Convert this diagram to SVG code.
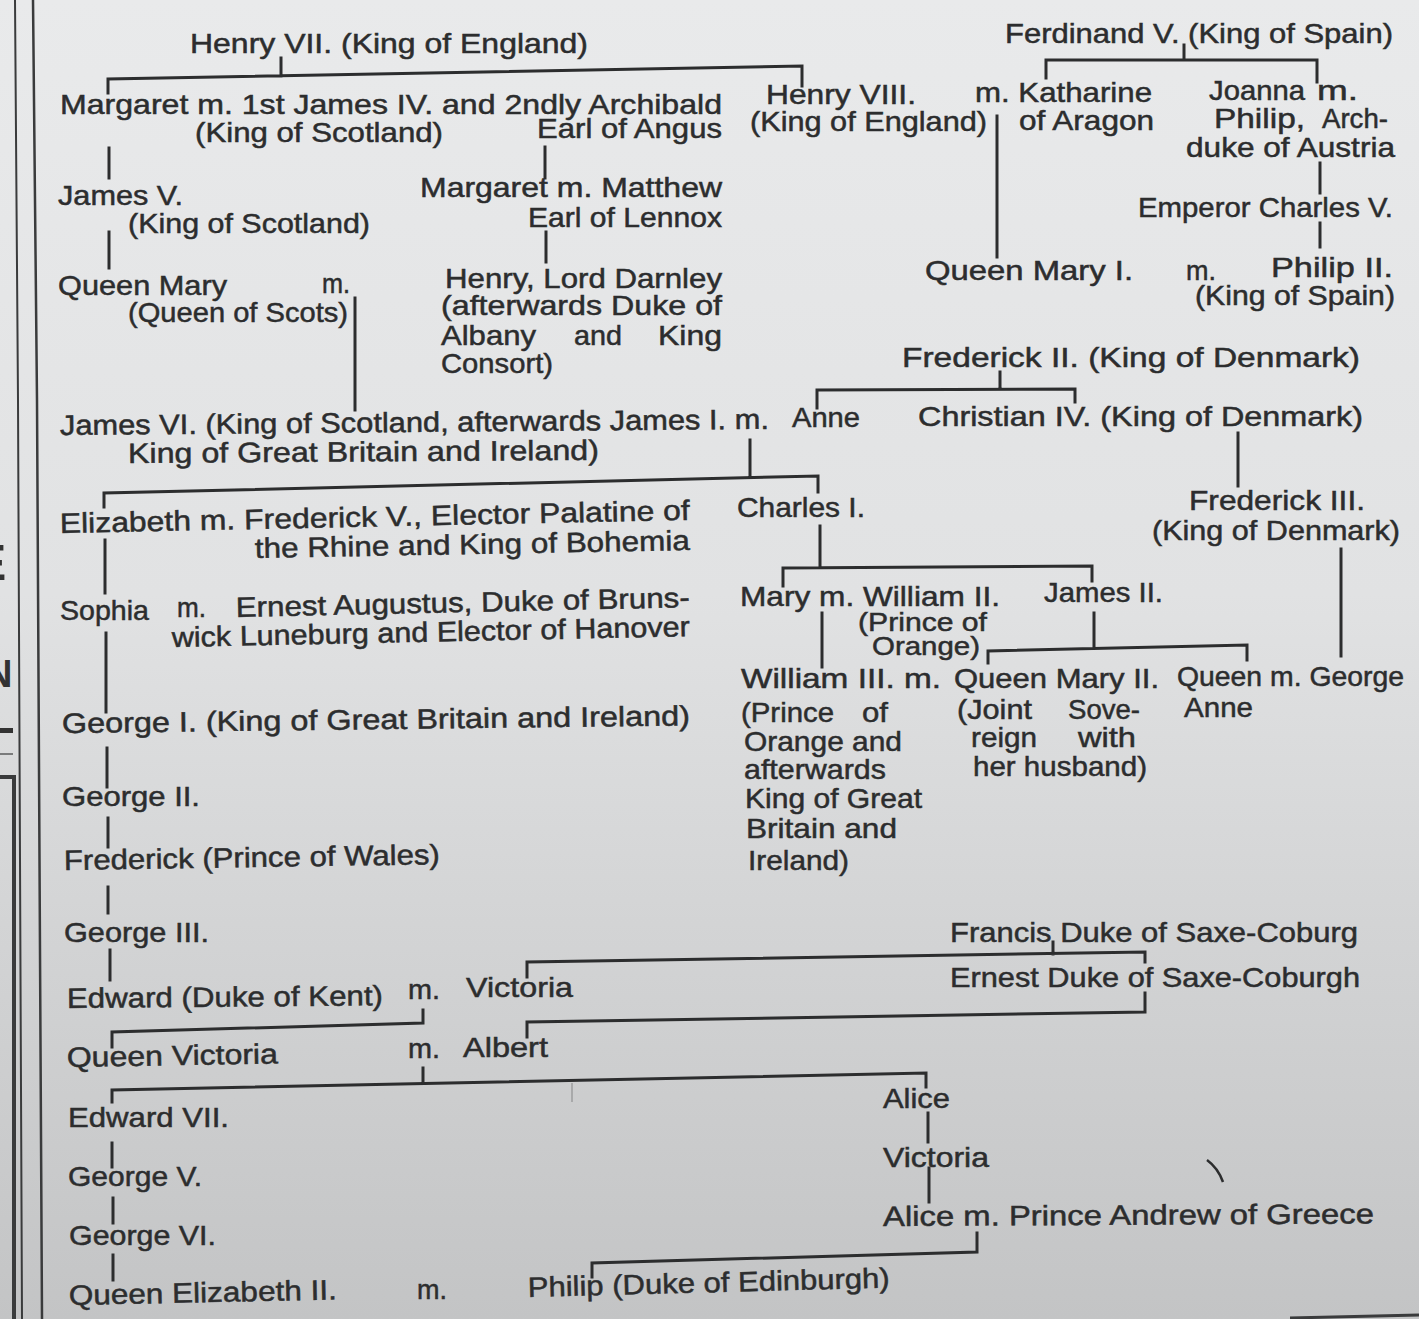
<svg xmlns="http://www.w3.org/2000/svg" width="1419" height="1319" viewBox="0 0 1419 1319">
<defs>
<linearGradient id="paper" x1="0" y1="0" x2="0" y2="1">
<stop offset="0" stop-color="#e9eaeb"/>
<stop offset="0.45" stop-color="#e1e2e3"/>
<stop offset="0.7" stop-color="#d3d4d5"/>
<stop offset="1" stop-color="#c3c4c5"/>
</linearGradient>
</defs>
<style>
.t{font-family:"Liberation Sans",Arial,sans-serif;font-size:28px;fill:#2c2d2e;stroke:#2c2d2e;stroke-width:0.5px;}
.s{font-size:26px;}
.c{fill:none;stroke:#2c2d2e;stroke-width:3;stroke-linejoin:miter;stroke-linecap:square;}
.rule{fill:none;stroke:#3a3b3c;}
.frag{font-family:"Liberation Sans",Arial,sans-serif;font-weight:bold;fill:#333;}
</style>
<rect x="0" y="0" width="1419" height="1319" fill="url(#paper)"/>

<g id="margin">
<path class="rule" d="M15,0 L18,400 L22,1319" stroke-width="2"/>
<path class="rule" d="M33,0 L37,400 L42,1319" stroke-width="2.5"/>
<path class="rule" d="M0,777 H14 V1319" stroke-width="4"/>
<text class="frag" x="-27" y="580" font-size="50">E</text>
<text class="frag" x="-15" y="687" font-size="38">N</text>
<rect x="0" y="728" width="13" height="5" fill="#333"/>
<path class="rule" d="M0,754 H13" stroke-width="1.2"/>
<path class="rule" d="M1290,1318 L1419,1315" stroke-width="3"/>
</g>

<g id="connectors">
<path class="c" d="M281,58 V76 M108,93 V79 L802,66 V86"/>
<path class="c" d="M109,148 V178"/>
<path class="c" d="M109,232 V268"/>
<path class="c" d="M545,147 V178"/>
<path class="c" d="M546,232 V262"/>
<path class="c" d="M355,298 V410"/>
<path class="c" d="M1184,45 V60 M1046,78 V60 H1317 V82"/>
<path class="c" d="M997,116 V257"/>
<path class="c" d="M1320,163 V193"/>
<path class="c" d="M1320,223 V247"/>
<path class="c" d="M1000,372 V389 M817,408 V390 L1075,389 V402"/>
<path class="c" d="M1238,433 V486"/>
<path class="c" d="M750,440 V477 M104,507 V493 L818,476 V492"/>
<path class="c" d="M105,540 V593"/>
<path class="c" d="M106,633 V712"/>
<path class="c" d="M107,748 V787"/>
<path class="c" d="M108,818 V847"/>
<path class="c" d="M108,887 V913"/>
<path class="c" d="M110,950 V980"/>
<path class="c" d="M820,526 V567 M783,586 V568 L1092,566 V581"/>
<path class="c" d="M822,613 V667"/>
<path class="c" d="M1094,613 V648 M988,663 V651 L1247,645 V660"/>
<path class="c" d="M1341,549 V656"/>
<path class="c" d="M1053,942 V954 M527,977 V962 L1145,952 V962"/>
<path class="c" d="M1145,993 V1012 L527,1022 V1037"/>
<path class="c" d="M423,1010 V1023 L112,1032 V1047"/>
<path class="c" d="M423,1068 V1083 M112,1102 V1090 L926,1073 V1087"/>
<path d="M572,1083 V1102" stroke="#9c9d9e" stroke-width="1.5" fill="none"/>
<path class="c" d="M112,1143 V1167"/>
<path class="c" d="M113,1198 V1223"/>
<path class="c" d="M113,1255 V1280"/>
<path class="c" d="M928,1113 V1142"/>
<path class="c" d="M929,1168 V1202"/>
<path class="c" d="M977,1233 V1252 L592,1263 V1277"/>
<path d="M1207,1160 Q1218,1168 1223,1182" stroke="#2c2d2e" stroke-width="2.5" fill="none"/>
</g>

<g id="henry-vii"><text class="t" x="190" y="53" textLength="398" lengthAdjust="spacingAndGlyphs">Henry VII. (King of England)</text></g>
<g id="ferdinand-v"><text class="t" x="1005" y="43" textLength="388" lengthAdjust="spacingAndGlyphs">Ferdinand V. (King of Spain)</text></g>

<g id="margaret-tudor">
<text class="t" x="60" y="114" textLength="662" lengthAdjust="spacingAndGlyphs">Margaret m. 1st James IV. and 2ndly Archibald</text>
<text class="t" x="195" y="142" textLength="248" lengthAdjust="spacingAndGlyphs">(King of Scotland)</text>
<text class="t" x="537" y="138" textLength="185" lengthAdjust="spacingAndGlyphs">Earl of Angus</text>
</g>
<g id="henry-viii">
<text class="t" x="766" y="104" textLength="150" lengthAdjust="spacingAndGlyphs">Henry VIII.</text>
<text class="t" x="750" y="131" textLength="237" lengthAdjust="spacingAndGlyphs">(King of England)</text>
</g>
<g id="katharine">
<text class="t" x="975" y="102" textLength="177" lengthAdjust="spacingAndGlyphs">m. Katharine</text>
<text class="t" x="1019" y="130" textLength="135" lengthAdjust="spacingAndGlyphs">of Aragon</text>
</g>
<g id="joanna">
<text class="t" x="1209" y="100" textLength="96" lengthAdjust="spacingAndGlyphs">Joanna</text>
<text class="t" x="1317" y="100" textLength="41" lengthAdjust="spacingAndGlyphs">m.</text>
<text class="t" x="1214" y="128" textLength="91" lengthAdjust="spacingAndGlyphs">Philip,</text>
<text class="t" x="1322" y="128" textLength="66" lengthAdjust="spacingAndGlyphs">Arch-</text>
<text class="t" x="1186" y="157" textLength="209" lengthAdjust="spacingAndGlyphs">duke of Austria</text>
</g>

<g id="james-v">
<text class="t" x="58" y="205" textLength="125" lengthAdjust="spacingAndGlyphs">James V.</text>
<text class="t" x="128" y="233" textLength="242" lengthAdjust="spacingAndGlyphs">(King of Scotland)</text>
</g>
<g id="margaret-douglas">
<text class="t" x="420" y="197" textLength="302" lengthAdjust="spacingAndGlyphs">Margaret m. Matthew</text>
<text class="t" x="528" y="227" textLength="194" lengthAdjust="spacingAndGlyphs">Earl of Lennox</text>
</g>
<g id="charles-v"><text class="t" x="1138" y="217" textLength="255" lengthAdjust="spacingAndGlyphs">Emperor Charles V.</text></g>

<g id="mary-queen-of-scots">
<text class="t" x="58" y="295" textLength="169" lengthAdjust="spacingAndGlyphs">Queen Mary</text>
<text class="t" x="322" y="293" textLength="28" lengthAdjust="spacingAndGlyphs">m.</text>
<text class="t" x="128" y="322" textLength="220" lengthAdjust="spacingAndGlyphs">(Queen of Scots)</text>
</g>
<g id="darnley">
<text class="t" x="445" y="288" textLength="277" lengthAdjust="spacingAndGlyphs">Henry, Lord Darnley</text>
<text class="t" x="441" y="315" textLength="281" lengthAdjust="spacingAndGlyphs">(afterwards Duke of</text>
<text class="t" x="441" y="345" textLength="95" lengthAdjust="spacingAndGlyphs">Albany</text>
<text class="t" x="574" y="345" textLength="48" lengthAdjust="spacingAndGlyphs">and</text>
<text class="t" x="658" y="345" textLength="64" lengthAdjust="spacingAndGlyphs">King</text>
<text class="t" x="441" y="373" textLength="112" lengthAdjust="spacingAndGlyphs">Consort)</text>
</g>
<g id="mary-i">
<text class="t" x="925" y="280" textLength="208" lengthAdjust="spacingAndGlyphs">Queen Mary I.</text>
<text class="t" x="1186" y="280" textLength="30" lengthAdjust="spacingAndGlyphs">m.</text>
</g>
<g id="philip-ii">
<text class="t" x="1271" y="277" textLength="122" lengthAdjust="spacingAndGlyphs">Philip II.</text>
<text class="t" x="1195" y="305" textLength="200" lengthAdjust="spacingAndGlyphs">(King of Spain)</text>
</g>

<g id="frederick-ii"><text class="t" x="902" y="367" textLength="458" lengthAdjust="spacingAndGlyphs">Frederick II. (King of Denmark)</text></g>
<g id="james-vi">
<text class="t" x="60" y="435" textLength="709" lengthAdjust="spacingAndGlyphs" transform="rotate(-0.5 60 435)">James VI. (King of Scotland, afterwards James I. m.</text>
<text class="t" x="128" y="463" textLength="471" lengthAdjust="spacingAndGlyphs" transform="rotate(-0.4 128 463)">King of Great Britain and Ireland)</text>
</g>
<g id="anne-of-denmark"><text class="t" x="792" y="427" textLength="68" lengthAdjust="spacingAndGlyphs">Anne</text></g>
<g id="christian-iv"><text class="t" x="918" y="426" textLength="445" lengthAdjust="spacingAndGlyphs">Christian IV. (King of Denmark)</text></g>

<g id="elizabeth-stuart">
<text class="t" x="60" y="533" textLength="630" lengthAdjust="spacingAndGlyphs" transform="rotate(-1.2 60 533)">Elizabeth m. Frederick V., Elector Palatine of</text>
<text class="t" x="255" y="558" textLength="435" lengthAdjust="spacingAndGlyphs" transform="rotate(-1.05 255 558)">the Rhine and King of Bohemia</text>
</g>
<g id="charles-i"><text class="t" x="737" y="517" textLength="128" lengthAdjust="spacingAndGlyphs">Charles I.</text></g>
<g id="frederick-iii">
<text class="t" x="1189" y="510" textLength="176" lengthAdjust="spacingAndGlyphs">Frederick III.</text>
<text class="t" x="1152" y="540" textLength="248" lengthAdjust="spacingAndGlyphs">(King of Denmark)</text>
</g>

<g id="sophia">
<text class="t" x="60" y="620" textLength="89" lengthAdjust="spacingAndGlyphs">Sophia</text>
<text class="t" x="177" y="617" textLength="29" lengthAdjust="spacingAndGlyphs">m.</text>
<text class="t" x="236" y="617" textLength="454" lengthAdjust="spacingAndGlyphs" transform="rotate(-1.25 236 617)">Ernest Augustus, Duke of Bruns-</text>
<text class="t" x="172" y="647" textLength="518" lengthAdjust="spacingAndGlyphs" transform="rotate(-1.2 172 647)">wick Luneburg and Elector of Hanover</text>
</g>
<g id="mary-princess-royal">
<text class="t" x="740" y="606" textLength="260" lengthAdjust="spacingAndGlyphs">Mary m. William II.</text>
<text class="t s" x="858" y="631" textLength="129" lengthAdjust="spacingAndGlyphs">(Prince of</text>
<text class="t s" x="872" y="655" textLength="108" lengthAdjust="spacingAndGlyphs">Orange)</text>
</g>
<g id="james-ii"><text class="t" x="1044" y="602" textLength="119" lengthAdjust="spacingAndGlyphs">James II.</text></g>

<g id="william-iii">
<text class="t" x="741" y="688" textLength="200" lengthAdjust="spacingAndGlyphs">William III. m.</text>
<text class="t" x="741" y="722" textLength="93" lengthAdjust="spacingAndGlyphs">(Prince</text>
<text class="t" x="862" y="722" textLength="26" lengthAdjust="spacingAndGlyphs">of</text>
<text class="t" x="744" y="751" textLength="158" lengthAdjust="spacingAndGlyphs">Orange and</text>
<text class="t" x="744" y="779" textLength="142" lengthAdjust="spacingAndGlyphs">afterwards</text>
<text class="t" x="745" y="808" textLength="177" lengthAdjust="spacingAndGlyphs">King of Great</text>
<text class="t" x="746" y="838" textLength="151" lengthAdjust="spacingAndGlyphs">Britain and</text>
<text class="t" x="748" y="870" textLength="101" lengthAdjust="spacingAndGlyphs">Ireland)</text>
</g>
<g id="mary-ii">
<text class="t" x="954" y="688" textLength="205" lengthAdjust="spacingAndGlyphs">Queen Mary II.</text>
<text class="t" x="957" y="719" textLength="75" lengthAdjust="spacingAndGlyphs">(Joint</text>
<text class="t" x="1068" y="719" textLength="72" lengthAdjust="spacingAndGlyphs">Sove-</text>
<text class="t" x="971" y="747" textLength="66" lengthAdjust="spacingAndGlyphs">reign</text>
<text class="t" x="1078" y="747" textLength="58" lengthAdjust="spacingAndGlyphs">with</text>
<text class="t" x="973" y="776" textLength="174" lengthAdjust="spacingAndGlyphs">her husband)</text>
</g>
<g id="queen-anne">
<text class="t" x="1177" y="686" textLength="227" lengthAdjust="spacingAndGlyphs">Queen m. George</text>
<text class="t" x="1184" y="717" textLength="69" lengthAdjust="spacingAndGlyphs">Anne</text>
</g>

<g id="george-i"><text class="t" x="62" y="733" textLength="628" lengthAdjust="spacingAndGlyphs" transform="rotate(-0.7 62 733)">George I. (King of Great Britain and Ireland)</text></g>
<g id="george-ii"><text class="t" x="62" y="806" textLength="138" lengthAdjust="spacingAndGlyphs">George II.</text></g>
<g id="frederick-prince-of-wales"><text class="t" x="64" y="870" textLength="376" lengthAdjust="spacingAndGlyphs" transform="rotate(-0.9 64 870)">Frederick (Prince of Wales)</text></g>
<g id="george-iii"><text class="t" x="64" y="942" textLength="145" lengthAdjust="spacingAndGlyphs">George III.</text></g>
<g id="francis-saxe-coburg"><text class="t" x="950" y="942" textLength="408" lengthAdjust="spacingAndGlyphs">Francis Duke of Saxe-Coburg</text></g>
<g id="ernest-saxe-coburg"><text class="t" x="950" y="987" textLength="410" lengthAdjust="spacingAndGlyphs">Ernest Duke of Saxe-Coburgh</text></g>

<g id="edward-duke-of-kent">
<text class="t" x="67" y="1008" textLength="316" lengthAdjust="spacingAndGlyphs" transform="rotate(-0.5 67 1008)">Edward (Duke of Kent)</text>
<text class="t" x="408" y="999" textLength="32" lengthAdjust="spacingAndGlyphs">m.</text>
</g>
<g id="victoria-saxe-coburg"><text class="t" x="466" y="997" textLength="107" lengthAdjust="spacingAndGlyphs">Victoria</text></g>
<g id="queen-victoria">
<text class="t" x="67" y="1067" textLength="211" lengthAdjust="spacingAndGlyphs" transform="rotate(-1 67 1067)">Queen Victoria</text>
<text class="t" x="408" y="1058" textLength="32" lengthAdjust="spacingAndGlyphs">m.</text>
</g>
<g id="albert"><text class="t" x="463" y="1057" textLength="85" lengthAdjust="spacingAndGlyphs">Albert</text></g>

<g id="edward-vii"><text class="t" x="68" y="1127" textLength="161" lengthAdjust="spacingAndGlyphs">Edward VII.</text></g>
<g id="alice"><text class="t" x="883" y="1108" textLength="67" lengthAdjust="spacingAndGlyphs">Alice</text></g>
<g id="george-v"><text class="t" x="68" y="1186" textLength="134" lengthAdjust="spacingAndGlyphs">George V.</text></g>
<g id="victoria-hesse"><text class="t" x="883" y="1167" textLength="106" lengthAdjust="spacingAndGlyphs">Victoria</text></g>
<g id="george-vi"><text class="t" x="69" y="1245" textLength="147" lengthAdjust="spacingAndGlyphs">George VI.</text></g>
<g id="alice-battenberg"><text class="t" x="883" y="1226" textLength="491" lengthAdjust="spacingAndGlyphs" transform="rotate(-0.3 883 1226)">Alice m. Prince Andrew of Greece</text></g>
<g id="elizabeth-ii">
<text class="t" x="69" y="1305" textLength="268" lengthAdjust="spacingAndGlyphs" transform="rotate(-1.2 69 1305)">Queen Elizabeth II.</text>
<text class="t" x="417" y="1299" textLength="30" lengthAdjust="spacingAndGlyphs">m.</text>
</g>
<g id="philip-edinburgh"><text class="t" x="528" y="1297" textLength="362" lengthAdjust="spacingAndGlyphs" transform="rotate(-1.5 528 1297)">Philip (Duke of Edinburgh)</text></g>
</svg>
